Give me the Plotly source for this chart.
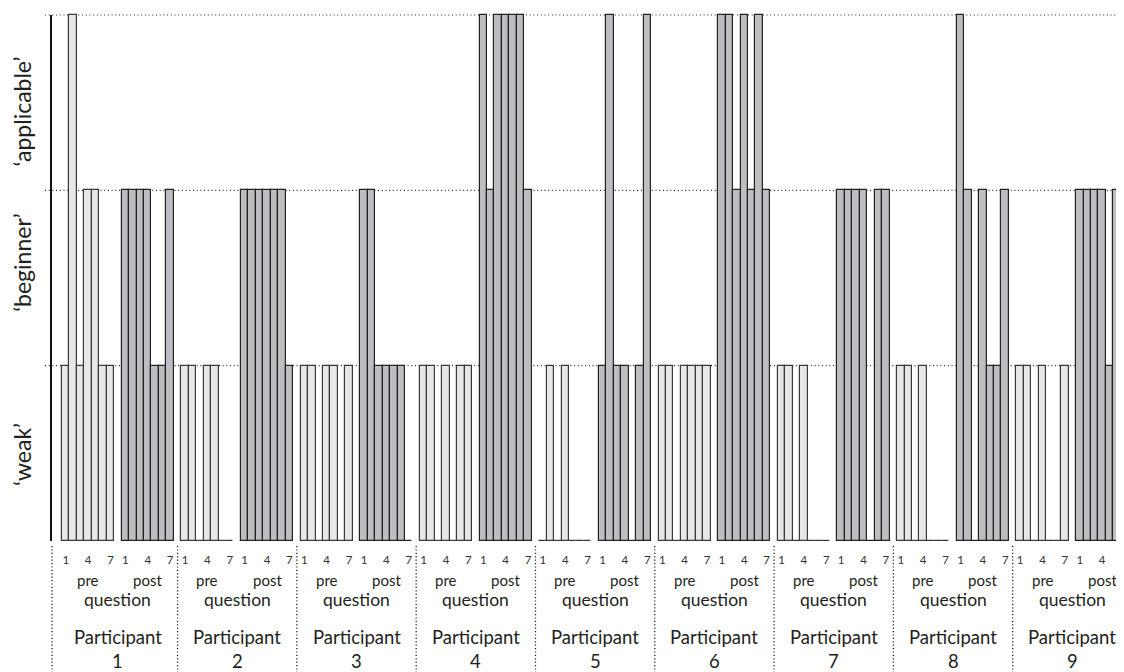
import plotly.graph_objects as go

# ---------------- data ----------------
participants = ["1", "2", "3", "4", "5", "6", "7", "8", "9"]
questions = [1, 2, 3, 4, 5, 6, 7]
tick_questions = [1, 4, 7]

# scores per participant, questions 1..7 (0 = none, 1 = weak, 2 = beginner, 3 = applicable)
pre_scores = [
    [1, 3, 1, 2, 2, 1, 1],
    [1, 1, 0, 1, 1, 0, 0],
    [1, 1, 0, 1, 1, 0, 1],
    [1, 1, 0, 1, 0, 1, 1],
    [0, 1, 0, 1, 0, 0, 0],
    [1, 1, 0, 1, 1, 1, 1],
    [1, 1, 0, 1, 0, 0, 0],
    [1, 1, 0, 1, 0, 0, 0],
    [1, 1, 0, 1, 0, 0, 1],
]
post_scores = [
    [2, 2, 2, 2, 1, 1, 2],
    [2, 2, 2, 2, 2, 2, 1],
    [2, 2, 1, 1, 1, 1, 0],
    [3, 2, 3, 3, 3, 3, 2],
    [1, 3, 1, 1, 0, 1, 3],
    [3, 3, 2, 3, 2, 3, 2],
    [2, 2, 2, 2, 0, 2, 2],
    [3, 2, 0, 2, 1, 1, 2],
    [2, 2, 2, 2, 1, 2, 1],
]
level_values = [1, 2, 3]
level_labels = ["\u2018weak\u2019", "\u2018beginner\u2019", "\u2018applicable\u2019"]

# ---------------- layout constants ----------------
GROUP = 16          # slots per participant (7 pre + gap + 7 post + gap)
POST_OFFSET = 8
FONT = "Lato"
TXT = "#231f20"
OFF = 8             # page body margin
W, H = 1124 - OFF, 672 - OFF
ML, MR, MT, MB = 51 - OFF, 0, 0, 129
X_RANGE = [-1.975, 141.93]
Y_RANGE = [-0.012, 3.04]
PLOT_BOTTOM = OFF + H - MB          # window pixel row of plot bottom
PLOT_H = H - MT - MB


def py(pix):
    """paper y for a window pixel row"""
    return (PLOT_BOTTOM - pix) / PLOT_H


pre_x, pre_y, post_x, post_y = [], [], [], []
for g, (pr, po) in enumerate(zip(pre_scores, post_scores)):
    for q, v in zip(questions, pr):
        pre_x.append(g * GROUP + q - 1)
        pre_y.append(v)
    for q, v in zip(questions, po):
        post_x.append(g * GROUP + POST_OFFSET + q - 1)
        post_y.append(v)

tickvals, ticktext = [], []
for g in range(len(participants)):
    for off in (0, POST_OFFSET):
        for q in tick_questions:
            tickvals.append(g * GROUP + off + q - 1)
            ticktext.append(str(q))

fig = go.Figure()
fig.add_bar(x=pre_x, y=pre_y, width=1, name="pre",
            marker=dict(color="#e6e7e8", line=dict(color="#3a3a3a", width=1.2)))
fig.add_bar(x=post_x, y=post_y, width=1, name="post",
            marker=dict(color="#bdbec1", line=dict(color="#222222", width=1.2)))

shapes = []
# dotted level lines
for lv in level_values:
    shapes.append(dict(type="line", xref="paper", yref="y", x0=-6 / (W - ML), x1=1, y0=lv, y1=lv,
                       line=dict(color="#2a2a2a", width=1.2, dash="1px,2.7px"), layer="below"))
# y axis line
shapes.append(dict(type="line", xref="paper", yref="y", x0=0, x1=0, y0=0, y1=max(level_values),
                   line=dict(color="#111111", width=2)))
# participant separators
sep_line = dict(color="#222222", width=1.3, dash="1.2px,2.2px")
shapes.append(dict(type="line", xref="paper", yref="paper", x0=0.001, x1=0.001, y0=py(546), y1=py(672),
                   line=sep_line))
for g in range(len(participants) - 1):
    xs = (g + 1) * GROUP - 1
    shapes.append(dict(type="line", xref="x", yref="paper", x0=xs, x1=xs, y0=py(546), y1=py(672),
                       line=sep_line))

annotations = []
for g, p in enumerate(participants):
    base = g * GROUP
    annotations.append(dict(x=base + 3, y=py(580), xref="x", yref="paper", text="pre", showarrow=False,
                            font=dict(family=FONT, size=15, color=TXT), yanchor="middle"))
    annotations.append(dict(x=base + POST_OFFSET + 3, y=py(580), xref="x", yref="paper", text="post",
                            showarrow=False, font=dict(family=FONT, size=15, color=TXT), yanchor="middle"))
    annotations.append(dict(x=base + 7, y=py(599), xref="x", yref="paper", text="question", showarrow=False,
                            font=dict(family=FONT, size=17.5, color=TXT), yanchor="middle"))
    annotations.append(dict(x=base + 7, y=py(637), xref="x", yref="paper", text="Participant",
                            showarrow=False, font=dict(family=FONT, size=18.5, color=TXT), yanchor="middle"))
    annotations.append(dict(x=base + 7, y=py(661), xref="x", yref="paper", text=p, showarrow=False,
                            font=dict(family=FONT, size=18.5, color=TXT), yanchor="middle"))

fig.update_layout(
    width=W, height=H,
    margin=dict(l=ML, r=MR, t=MT, b=MB, pad=0),
    paper_bgcolor="white", plot_bgcolor="white",
    showlegend=False, barmode="overlay", bargap=0,
    shapes=shapes, annotations=annotations,
    font=dict(family=FONT, color=TXT),
)
fig.update_xaxes(range=X_RANGE, tickvals=tickvals, ticktext=ticktext, ticks="", showline=False,
                 showgrid=False, zeroline=False, tickfont=dict(family=FONT, size=11.5, color="#333333"),
                 ticklabelstandoff=8)
fig.update_yaxes(range=Y_RANGE, tickvals=[0.473, 1.568, 2.43], ticktext=level_labels, tickangle=-90,
                 ticks="", showline=False, showgrid=False, zeroline=False,
                 tickfont=dict(family=FONT, size=23, color=TXT), ticklabelstandoff=14)

fig.write_html("out.html")
